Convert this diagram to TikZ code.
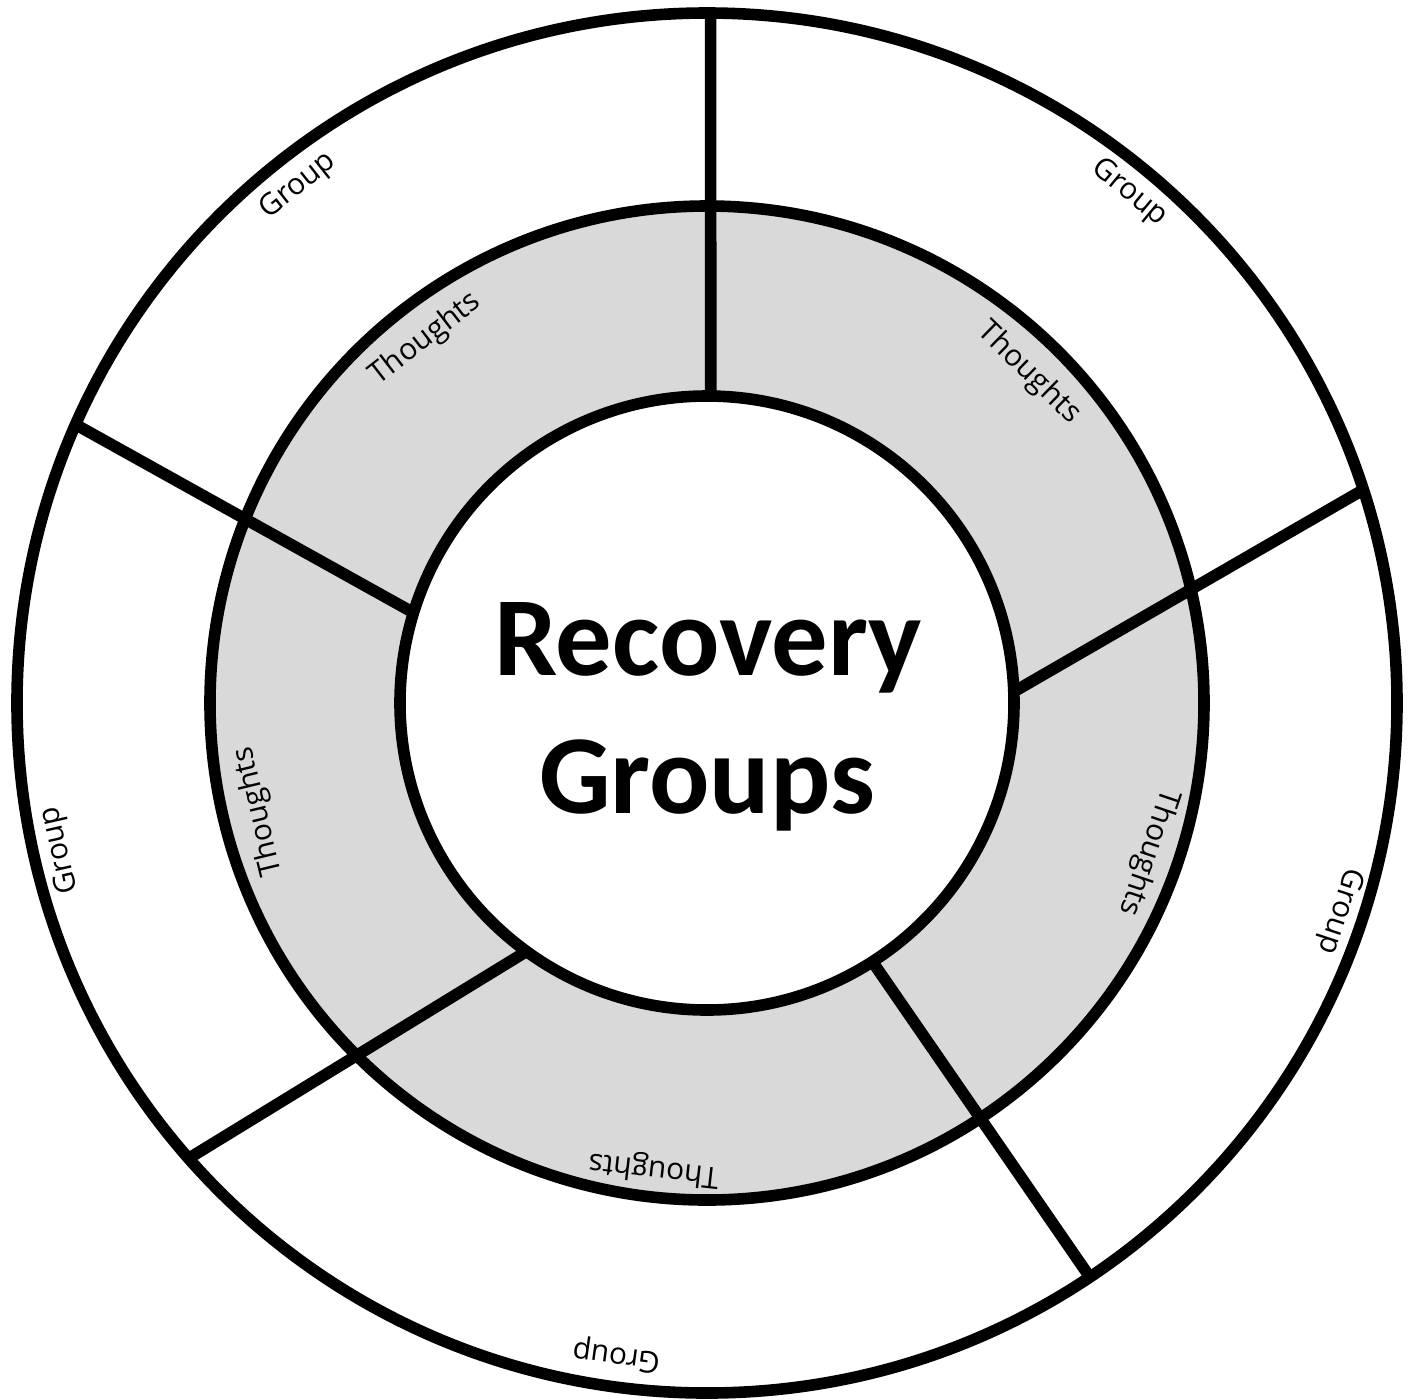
\documentclass[tikz,border=0pt]{standalone}
\usepackage{fontspec}
\setmainfont{Open Sans}
\newfontfamily\titlefont{Carlito}
\usepackage{xcolor}
\usepackage{tikz}
\definecolor{RingGray}{HTML}{D9D9D9}

\begin{document}
\begin{tikzpicture}[x=0.01cm,y=0.01cm,
 ring/.style={draw=black,line width=3.3pt},
 spoke/.style={draw=black,line width=3.3pt},
 seg/.style={font=\fontsize{8.5}{10}\selectfont,inner sep=0pt},
 title/.style={font=\titlefont\bfseries\fontsize{32}{38}\selectfont,inner sep=0pt}]
\useasboundingbox (-707,-696) rectangle (706,703);
\fill[white] (-707,-696) rectangle (706,703);
\coordinate (c) at (0,0);
\fill[RingGray] (c) circle (497);
\fill[white] (c) circle (307);
% dividers between the segments
\draw[spoke] (89.3:307) -- (89.7:690);
\draw[spoke] (162.9:307) -- (156.2:690);
\draw[spoke] (2.1:307) -- (18.0:690);
\draw[spoke] (234.0:307) -- (221.3:690);
\draw[spoke] (302.6:307) -- (303.7:690);
% rings
\draw[ring] (c) circle (690);
\draw[ring] (c) circle (497);
\draw[ring] (c) circle (307);
% centre
\node[title,anchor=base] (rec) at (1,28) {Recovery};
\node[title,anchor=base] (grp) at (0,-110) {Groups};
% inner ring labels
\node[seg,rotate=37.7] (t1) at (127.7:460) {Thoughts};
\node[seg,rotate=-44.3] (t2) at (45.7:461) {Thoughts};
\node[seg,rotate=103.6] (t3) at (193.6:461) {Thoughts};
\node[seg,rotate=-108.7] (t4) at (-18.7:466) {Thoughts};
\node[seg,rotate=173.5] (t5) at (263.5:469) {Thoughts};
% outer ring labels
\node[seg,rotate=38.35] (g1) at (128.35:659) {Group};
\node[seg,rotate=-39.6] (g2) at (50.4:662) {Group};
\node[seg,rotate=102.8] (g3) at (192.8:663) {Group};
\node[seg,rotate=-108.2] (g4) at (-18.2:666) {Group};
\node[seg,rotate=172.1] (g5) at (262.1:658) {Group};
\end{tikzpicture}
\end{document}
